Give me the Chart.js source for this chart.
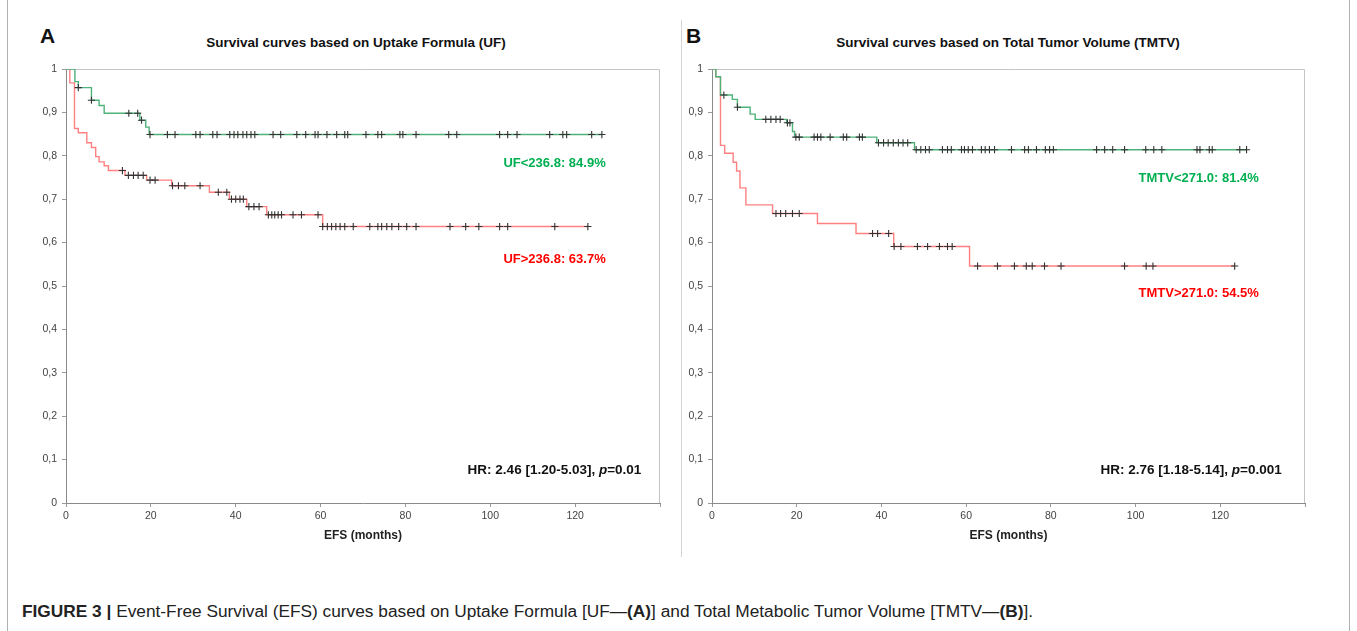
<!DOCTYPE html>
<html>
<head>
<meta charset="utf-8">
<script src="https://cdn.jsdelivr.net/npm/chart.js@4.4.1/dist/chart.umd.min.js"></script>
<style>
  body { margin: 0; background: #fff; width: 1357px; height: 631px; position: relative; overflow: hidden; font-family: "Liberation Sans", Arial, sans-serif; }
  .frame { position: absolute; left: 7px; top: 0; width: 1343px; height: 631px; border-left: 1px solid #b0b0b0; border-right: 1px solid #b0b0b0; box-sizing: border-box; }
  .divider { position: absolute; left: 681px; top: 20px; width: 1px; height: 537px; background: #d4d4d4; }
  .letter { position: absolute; top: 24px; font-weight: bold; font-size: 21px; color: #111; }
  .title { position: absolute; top: 35px; font-weight: bold; font-size: 13.5px; color: #111; transform: translateX(-50%); white-space: nowrap; }
  canvas { position: absolute; top: 20px; }
  .caption { position: absolute; left: 22px; top: 601px; font-size: 17.3px; color: #222; white-space: nowrap; }
</style>
</head>
<body>
<div class="frame"></div>
<div class="divider"></div>
<div class="letter" style="left:40px">A</div>
<div class="letter" style="left:686px">B</div>
<div class="title" style="left:356px">Survival curves based on Uptake Formula (UF)</div>
<div class="title" style="left:1008px">Survival curves based on Total Tumor Volume (TMTV)</div>
<canvas id="chartA" width="667" height="535" style="left:8px"></canvas>
<canvas id="chartB" width="640" height="535" style="left:682px"></canvas>
<div class="caption"><b>FIGURE 3 |</b> Event-Free Survival (EFS) curves based on Uptake Formula [UF—<b>(A)</b>] and Total Metabolic Tumor Volume [TMTV—<b>(B)</b>].</div>

<script>
// axis ticks
const timeTicks = [0, 20, 40, 60, 80, 100, 120, 140];
const survTicks = [0, 0.1, 0.2, 0.3, 0.4, 0.5, 0.6, 0.7, 0.8, 0.9, 1];

// panel A - UF < 236.8 (green)
const ufLowTimes = [0, 2.1, 2.9, 6.0, 7.8, 9.0, 17.4, 18.8, 19.6, 126.3];
const ufLowSurv = [1, 0.971, 0.957, 0.928, 0.916, 0.898, 0.882, 0.866, 0.849, 0.849];
const ufLowCensored = [2.9, 6.0, 14.8, 16.9, 17.8, 19.8, 23.9, 25.7, 30.6, 31.6, 34.6, 35.6, 38.6, 39.6, 40.5, 41.7, 42.6, 43.6, 44.5,
  48.8, 50.6, 54.4, 56.5, 58.7, 59.4, 61.5, 63.8, 65.7, 66.4, 70.7, 73.5, 74.4, 78.7, 79.4, 82.5, 90.2, 92.1,
  102.2, 104.1, 106.3, 114.0, 117.1, 118.0, 123.9, 126.3];

// panel A - UF > 236.8 (red)
const ufHighTimes = [0, 0.9, 2.0, 2.9, 4.9, 6.0, 7.0, 7.8, 9.0, 10.0, 13.9, 19.0, 24.9, 33.8, 38.5, 42.6, 47.3, 60.5, 123.0];
const ufHighSurv = [1, 0.968, 0.863, 0.853, 0.830, 0.819, 0.798, 0.786, 0.777, 0.766, 0.755, 0.744, 0.731, 0.716, 0.700, 0.683, 0.664, 0.637, 0.637];
const ufHighCensored = [13.3, 14.7, 15.9, 17.0, 18.2, 19.8, 21.0, 25.1, 26.5, 28.0, 31.6, 35.9, 37.9, 39.0, 40.0, 41.0, 41.8,
  43.1, 44.3, 45.5, 47.7, 48.5, 49.2, 50.0, 50.8, 53.5, 55.5, 59.4, 60.5, 61.6, 62.6, 63.6, 64.6, 65.7, 67.7,
  71.6, 73.5, 74.4, 75.6, 76.8, 78.4, 80.3, 82.5, 90.5, 94.2, 97.3, 102.2, 104.1, 115.2, 123.0];

// panel B - TMTV < 271.0 (green)
const tmtvLowTimes = [0, 0.9, 2.0, 4.8, 6.0, 9.0, 10.2, 17.6, 19.0, 19.5, 38.9, 47.8, 126.2];
const tmtvLowSurv = [1, 0.982, 0.940, 0.930, 0.912, 0.896, 0.884, 0.876, 0.856, 0.843, 0.830, 0.814, 0.814];
const tmtvLowCensored = [2.8, 6.0, 12.7, 13.9, 15.1, 16.1, 17.8, 18.4, 19.8, 20.6, 24.1, 24.9, 25.7, 27.9, 31.0, 31.8, 34.8, 35.5,
  39.3, 40.5, 41.6, 42.8, 44.0, 45.1, 46.2, 48.2, 49.3, 50.4, 51.3, 54.4, 55.6, 56.5, 58.9, 59.6, 60.5, 61.5,
  63.6, 64.5, 65.5, 66.7, 70.7, 73.8, 74.7, 76.6, 78.7, 79.7, 80.6, 90.8, 92.7, 94.6, 97.4, 102.4, 104.3, 106.2,
  114.5, 115.2, 117.4, 118.1, 124.6, 126.2];

// panel B - TMTV > 271.0 (red)
const tmtvHighTimes = [0, 0.9, 2.0, 3.0, 5.0, 5.8, 6.6, 8.0, 14.3, 24.9, 34.0, 42.9, 60.8, 123.4];
const tmtvHighSurv = [1, 0.982, 0.824, 0.806, 0.785, 0.765, 0.726, 0.687, 0.667, 0.644, 0.621, 0.591, 0.546, 0.546];
const tmtvHighCensored = [15.1, 16.2, 17.4, 19.0, 20.6, 37.9, 39.1, 41.7, 43.0, 44.6, 48.5, 50.9, 53.7, 55.6, 56.7,
  62.7, 67.4, 71.4, 74.2, 75.6, 78.5, 82.4, 97.4, 102.5, 104.1, 123.4];

const GREEN_LINE = "#4fb27a";
const RED_LINE = "#ff8080";
const GREEN_TEXT = "#00b050";
const RED_TEXT = "#ff0000";

function survivalAt(times, surv, t) {
  let s = surv[0];
  for (let i = 0; i < times.length; i++) {
    if (times[i] <= t) s = surv[i];
  }
  return s;
}

function curve(times, surv, color) {
  return {
    data: times.map((t, i) => ({ x: t, y: surv[i] })),
    borderColor: color,
    borderWidth: 1.4,
    stepped: "before",
    pointRadius: 0,
    fill: false
  };
}

function marks(times, surv, censored) {
  return {
    data: censored.map((t) => ({ x: t, y: survivalAt(times, surv, t) })),
    showLine: false,
    pointStyle: "cross",
    pointRadius: 3.6,
    pointBorderColor: "#333",
    pointBorderWidth: 1.1,
    pointBackgroundColor: "#333"
  };
}

// plot frame + annotation texts
const kmDecor = {
  id: "kmDecor",
  beforeDatasetsDraw(chart) {
    const { ctx, chartArea: a } = chart;
    ctx.save();
    ctx.strokeStyle = "#c4c4c4";
    ctx.lineWidth = 1;
    ctx.beginPath();
    ctx.moveTo(a.left, a.top + 0.5);
    ctx.lineTo(a.right - 0.5, a.top + 0.5);
    ctx.lineTo(a.right - 0.5, a.bottom);
    ctx.stroke();
    ctx.restore();
  },
  afterDatasetsDraw(chart, args, opts) {
    const { ctx, scales } = chart;
    (opts.items || []).forEach((item) => {
      const px = scales.x.getPixelForValue(item.x);
      const py = scales.y.getPixelForValue(item.y);
      ctx.save();
      ctx.textBaseline = "middle";
      ctx.textAlign = "left";
      let total = 0;
      item.parts.forEach((p) => {
        ctx.font = p.font;
        total += ctx.measureText(p.text).width;
      });
      let cx = px - total;
      item.parts.forEach((p) => {
        ctx.font = p.font;
        ctx.fillStyle = item.color;
        ctx.fillText(p.text, cx, py);
        cx += ctx.measureText(p.text).width;
      });
      ctx.restore();
    });
  }
};

const B13 = 'bold 13px "Liberation Sans", Arial, sans-serif';
const B12 = 'bold 13.5px "Liberation Sans", Arial, sans-serif';
const BI12 = 'italic bold 13.5px "Liberation Sans", Arial, sans-serif';

function makeChart(id, yWidth, padRight, datasets, items) {
  return new Chart(document.getElementById(id), {
    type: "line",
    data: { datasets: datasets },
    options: {
      responsive: false,
      animation: false,
      layout: { padding: { top: 49, right: padRight, left: 0, bottom: 0 } },
      plugins: {
        legend: { display: false },
        tooltip: { enabled: false },
        kmDecor: { items: items }
      },
      scales: {
        x: {
          type: "linear",
          min: timeTicks[0],
          max: timeTicks[timeTicks.length - 1],
          afterBuildTicks: (s) => { s.ticks = timeTicks.map((v) => ({ value: v })); },
          afterFit: (s) => { s.height = 52; },
          ticks: {
            autoSkip: false,
            maxRotation: 0,
            padding: 3,
            color: "#444",
            font: { size: 10.5, family: '"Liberation Sans", Arial, sans-serif' },
            callback: (v) => (v === 140 ? "" : String(v))
          },
          grid: { drawOnChartArea: false, drawTicks: true, tickLength: 4, color: "#999" },
          border: { color: "#8a8a8a", width: 1 },
          title: {
            display: true,
            text: "EFS (months)",
            color: "#222",
            padding: { top: 2, bottom: 12 },
            font: { size: 12, weight: "bold", family: '"Liberation Sans", Arial, sans-serif' }
          }
        },
        y: {
          min: 0,
          max: 1,
          afterBuildTicks: (s) => { s.ticks = survTicks.map((v) => ({ value: v })); },
          afterFit: (s) => { s.width = yWidth; },
          ticks: {
            autoSkip: false,
            padding: 5,
            color: "#444",
            font: { size: 10.5, family: '"Liberation Sans", Arial, sans-serif' },
            callback: (v) => (v === 0 || v === 1 ? String(v) : v.toFixed(1).replace(".", ","))
          },
          grid: { drawOnChartArea: false, drawTicks: true, tickLength: 4, color: "#999" },
          border: { color: "#8a8a8a", width: 1 }
        }
      }
    },
    plugins: [kmDecor]
  });
}

makeChart("chartA", 58, 15, [
  marks(ufLowTimes, ufLowSurv, ufLowCensored),
  marks(ufHighTimes, ufHighSurv, ufHighCensored),
  curve(ufLowTimes, ufLowSurv, GREEN_LINE),
  curve(ufHighTimes, ufHighSurv, RED_LINE)
], [
  { x: 127.2, y: 0.783, color: GREEN_TEXT, parts: [{ text: "UF<236.8: 84.9%", font: B13 }] },
  { x: 127.2, y: 0.562, color: RED_TEXT, parts: [{ text: "UF>236.8: 63.7%", font: B13 }] },
  { x: 135.6, y: 0.076, color: "#111", parts: [
    { text: "HR: 2.46 [1.20-5.03], ", font: B12 },
    { text: "p", font: BI12 },
    { text: "=0.01", font: B12 }
  ] }
]);

makeChart("chartB", 30, 17, [
  marks(tmtvLowTimes, tmtvLowSurv, tmtvLowCensored),
  marks(tmtvHighTimes, tmtvHighSurv, tmtvHighCensored),
  curve(tmtvLowTimes, tmtvLowSurv, GREEN_LINE),
  curve(tmtvHighTimes, tmtvHighSurv, RED_LINE)
], [
  { x: 129.1, y: 0.747, color: GREEN_TEXT, parts: [{ text: "TMTV<271.0: 81.4%", font: B13 }] },
  { x: 129.1, y: 0.482, color: RED_TEXT, parts: [{ text: "TMTV>271.0: 54.5%", font: B13 }] },
  { x: 134.5, y: 0.076, color: "#111", parts: [
    { text: "HR: 2.76 [1.18-5.14], ", font: B12 },
    { text: "p", font: BI12 },
    { text: "=0.001", font: B12 }
  ] }
]);
</script>
</body>
</html>
